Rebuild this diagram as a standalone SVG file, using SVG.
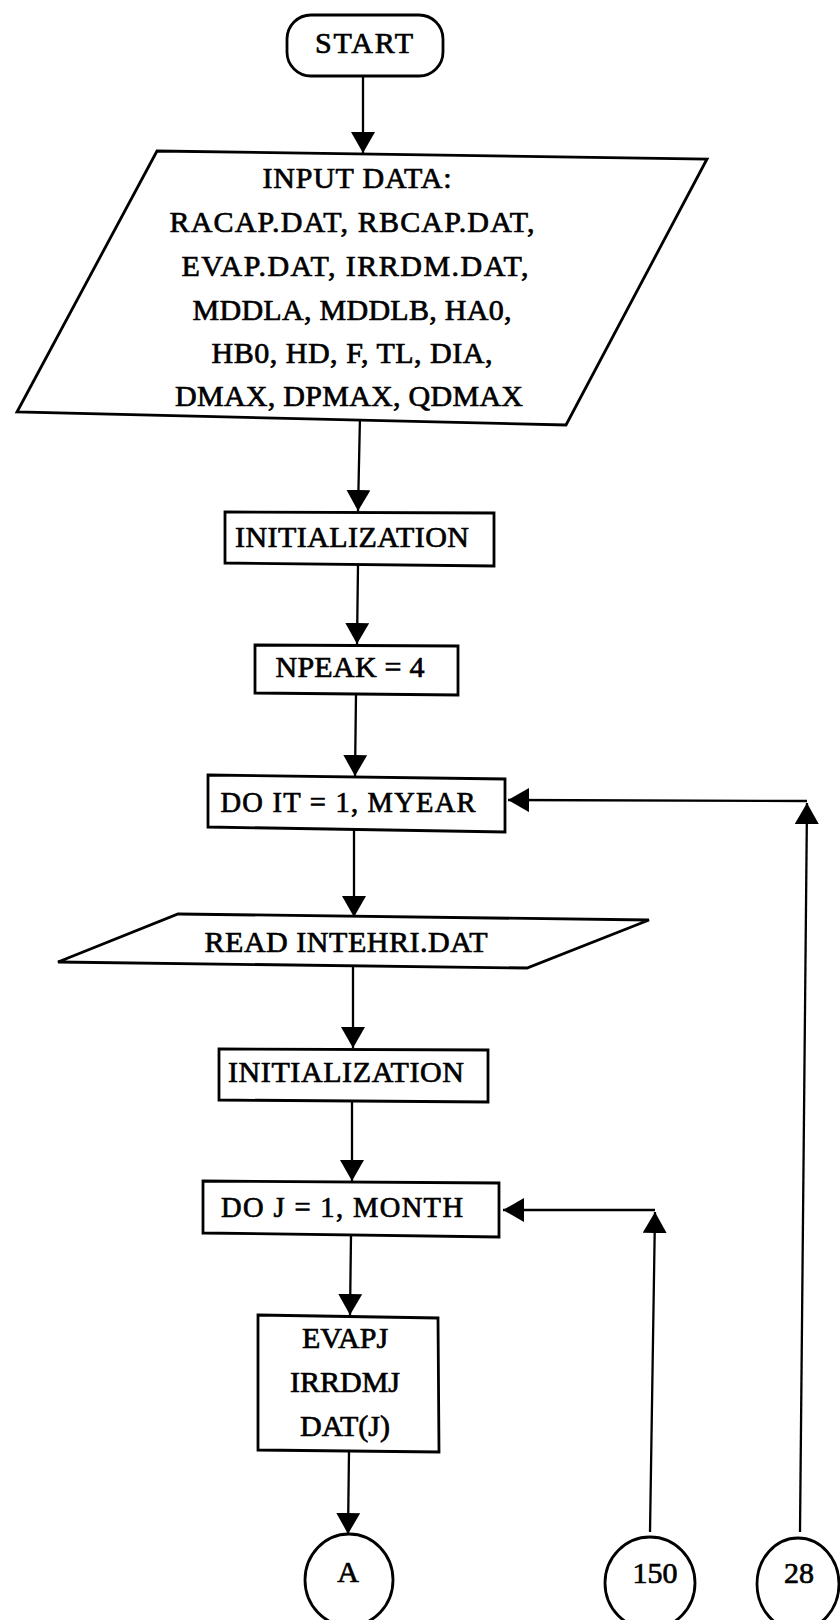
<svg xmlns="http://www.w3.org/2000/svg" width="840" height="1620" viewBox="0 0 840 1620">
  <style>
    .shape { fill: #ffffff; stroke: #000000; stroke-width: 2.8; stroke-linejoin: miter; }
    .conn { fill: none; stroke: #000000; stroke-width: 2.3; marker-end: url(#ah); }
    text { font-family: "Liberation Serif", "Times New Roman", serif; font-size: 30px; fill: #000000; stroke: #000000; stroke-width: 0.7; text-anchor: middle; }
  </style>
  <defs>
    <marker id="ah" viewBox="0 0 21 24" markerWidth="21" markerHeight="24" markerUnits="userSpaceOnUse" refX="21" refY="12" orient="auto">
      <path d="M0,0 L21,12 L0,24 Z" fill="#000000"/>
    </marker>
  </defs>
  <rect width="840" height="1620" fill="#ffffff"/>

  <g id="connectors">
    <path class="conn" d="M363,76 L363,153"/>
    <path class="conn" d="M360,416 L358,511"/>
    <path class="conn" d="M358,565 L357,644"/>
    <path class="conn" d="M356,694 L355,776"/>
    <path class="conn" d="M354,830 L354,917"/>
    <path class="conn" d="M353,966 L353,1048"/>
    <path class="conn" d="M352,1101 L352,1181"/>
    <path class="conn" d="M351,1235 L350,1315"/>
    <path class="conn" d="M349,1451 L348,1534"/>
    <path class="conn" d="M650,1532 L655,1212"/>
    <path class="conn" d="M655,1210 L503,1210"/>
    <path class="conn" d="M800,1532 L807,803"/>
    <path class="conn" d="M807,801 L508,800"/>
  </g>

  <g id="start">
    <rect class="shape" x="287" y="15" width="156" height="61" rx="24" ry="24"/>
    <text x="364" y="53" textLength="98">START</text>
  </g>

  <g id="input-data">
    <polygon class="shape" points="157,151 707,159 566,425 17,412"/>
    <text x="357" y="188" textLength="189">INPUT DATA:</text>
    <text x="352" y="232" textLength="365">RACAP.DAT, RBCAP.DAT,</text>
    <text x="355" y="276" textLength="347">EVAP.DAT, IRRDM.DAT,</text>
    <text x="352" y="320" textLength="319">MDDLA, MDDLB, HA0,</text>
    <text x="352" y="363" textLength="281">HB0, HD, F, TL, DIA,</text>
    <text x="349" y="406" textLength="348">DMAX, DPMAX, QDMAX</text>
  </g>

  <g id="init1">
    <polygon class="shape" points="225,512 494,513 494,566 225,563"/>
    <text x="352" y="547" textLength="234">INITIALIZATION</text>
  </g>

  <g id="npeak">
    <polygon class="shape" points="255,645 458,646 458,695 255,693"/>
    <text x="350" y="677" textLength="149">NPEAK = 4</text>
  </g>

  <g id="do-it">
    <polygon class="shape" points="208,775 505,779 505,832 208,827"/>
    <text x="348" y="812" style="font-size:28.5px" textLength="255">DO IT = 1, MYEAR</text>
  </g>

  <g id="read-intehri">
    <polygon class="shape" points="178,914 649,920 527,968 58,962"/>
    <text x="346" y="952" textLength="283">READ INTEHRI.DAT</text>
  </g>

  <g id="init2">
    <polygon class="shape" points="219,1049 488,1050 488,1102 219,1100"/>
    <text x="346" y="1082" textLength="236">INITIALIZATION</text>
  </g>

  <g id="do-j">
    <polygon class="shape" points="203,1181 499,1183 499,1237 203,1233"/>
    <text x="342" y="1217" style="font-size:28.5px" textLength="242">DO J = 1, MONTH</text>
  </g>

  <g id="evapj">
    <polygon class="shape" points="258,1315 438,1318 439,1452 258,1450"/>
    <text x="345" y="1348">EVAPJ</text>
    <text x="345" y="1392">IRRDMJ</text>
    <text x="345" y="1436">DAT(J)</text>
  </g>

  <g id="conn-a">
    <ellipse class="shape" cx="349" cy="1580" rx="44" ry="46"/>
    <text x="348" y="1582">A</text>
  </g>

  <g id="conn-150">
    <ellipse class="shape" cx="650" cy="1583" rx="45" ry="46"/>
    <text x="655" y="1583">150</text>
  </g>

  <g id="conn-28">
    <ellipse class="shape" cx="798" cy="1584" rx="41" ry="46"/>
    <text x="799" y="1583">28</text>
  </g>
</svg>
